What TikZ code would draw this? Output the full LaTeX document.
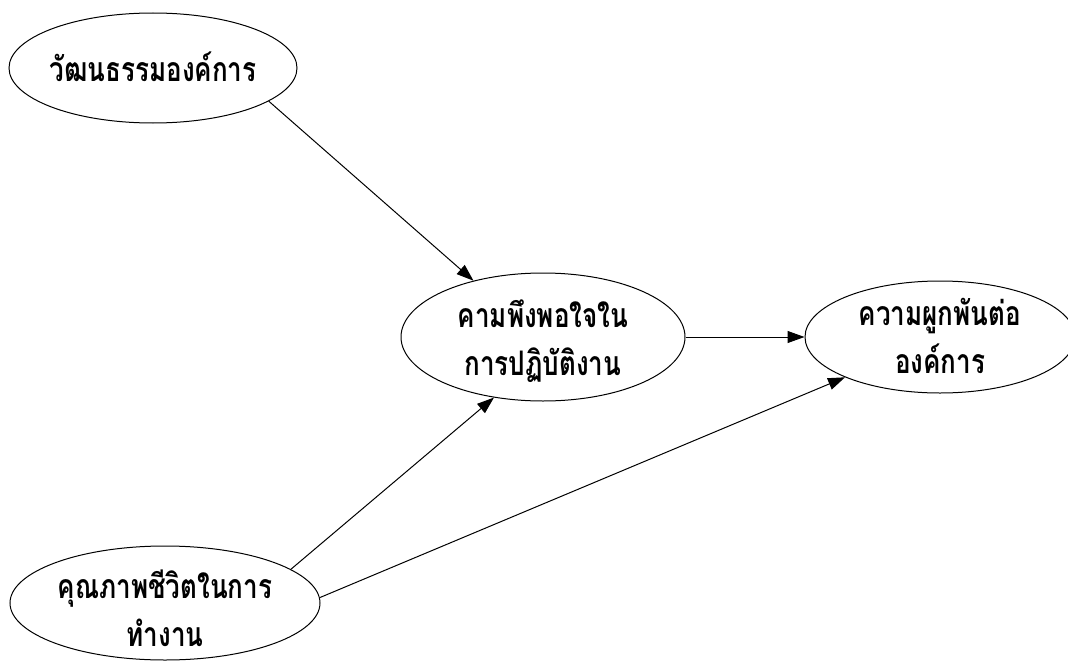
\documentclass[tikz,border=0pt]{standalone}
\usepackage{fontspec}
\usepackage{graphicx}
\newfontfamily\thaifont[Script=Thai]{Loma}
\usetikzlibrary{arrows.meta,shapes.geometric}

% tall two-line Thai label
\newcommand\tallthai[1]{\scalebox{1}[1.3]{\begin{tabular}{@{}c@{}}#1\end{tabular}}}

\tikzset{
  oval/.style={draw=black, line width=1pt, ellipse, inner sep=0pt},
  lbl/.style={font=\thaifont\bfseries\fontsize{26}{37}\selectfont, inner sep=0pt},
  link/.style={draw=black, line width=1pt, -{Triangle[length=17pt,width=12pt]}}
}

\begin{document}
\begin{tikzpicture}[x=1pt,y=-1pt]
  \useasboundingbox (0,0) rectangle (1068,661);

  % latent variables
  \node[oval, minimum width=288pt, minimum height=110pt] (e1) at (153,68) {};
  \node[oval, minimum width=284pt, minimum height=128pt] (e2) at (543,337) {};
  \node[oval, minimum width=270pt, minimum height=112pt] (e3) at (940,337) {};
  \node[oval, minimum width=310pt, minimum height=114pt] (e4) at (165,603) {};

  % labels
  \node[lbl] (t1) at ([yshift=-4pt]e1.center) {\tallthai{วัฒนธรรมองค์การ}};
  \node[lbl] (t2) at ([yshift=-5pt]e2.center) {\tallthai{คามพึงพอใจใน\\การปฏิบัติงาน}};
  \node[lbl] (t3) at ([yshift=-3pt]e3.center) {\tallthai{ความผูกพันต่อ\\องค์การ}};
  \node[lbl] (t4) at ([yshift=-10pt]e4.center) {\tallthai{คุณภาพชีวิตในการ\\ทำงาน}};

  % paths
  \draw[link] (e1.-16) -- (e2.141);
  \draw[link] (e2.east) -- (e3.west);
  \draw[link] (e4.15) -- (e2.231);
  \draw[link] (e4.2) -- (e3.203);
\end{tikzpicture}
\end{document}
